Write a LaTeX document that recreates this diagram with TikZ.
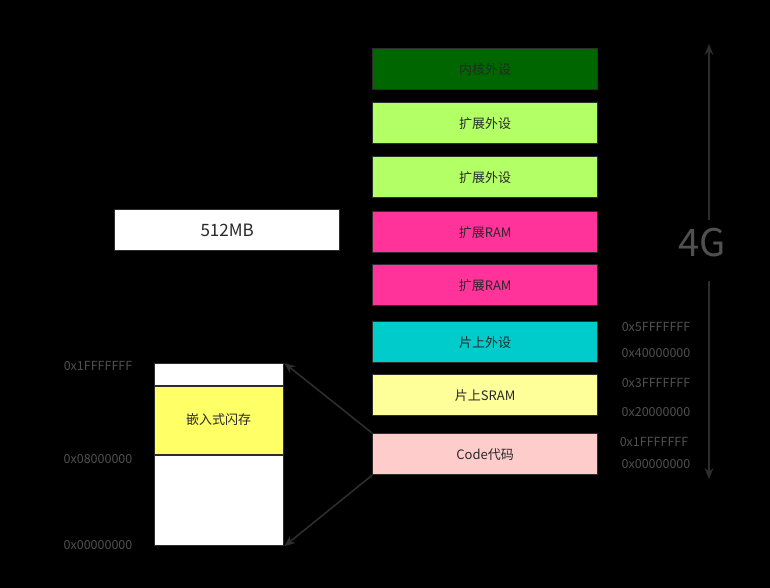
\documentclass[tikz,border=0pt]{standalone}
\usepackage{fontspec}
\setmainfont{Noto Sans CJK SC}
\usetikzlibrary{arrows.meta}
\definecolor{dkgreen}{RGB}{0,102,0}
\definecolor{ltgreen}{RGB}{179,255,102}
\definecolor{hotpink}{RGB}{255,51,153}
\definecolor{cyanbox}{RGB}{0,204,204}
\definecolor{ltyellow}{RGB}{255,255,153}
\definecolor{ltpink}{RGB}{255,204,204}
\definecolor{flash}{RGB}{255,255,102}
\definecolor{txt}{RGB}{40,40,40}
\definecolor{lbl}{RGB}{80,80,80}
\definecolor{edge}{RGB}{45,45,45}
\tikzset{
  memblock/.style={draw=edge, line width=1.3pt, minimum width=225pt, minimum height=41pt, inner sep=0pt, text=txt, font=\fontsize{13}{15}\selectfont, anchor=north west},
  addr/.style={text=lbl, font=\fontsize{12.5}{14}\selectfont, inner sep=0pt},
  link/.style={draw=edge, line width=1.6pt, -{Stealth[length=11pt,width=9pt]}},
}
\begin{document}
\begin{tikzpicture}[x=1pt,y=-1pt]
\fill[black] (0,0) rectangle (770,588);
\useasboundingbox (0,0) rectangle (770,588);
% right column
\node[memblock, fill=dkgreen] (b8) at (372,48) {内核外设};
\node[memblock, fill=ltgreen] (b7) at (372,102) {扩展外设};
\node[memblock, fill=ltgreen] (b6) at (372,156) {扩展外设};
\node[memblock, fill=hotpink] (b5) at (372,211) {扩展RAM};
\node[memblock, fill=hotpink] (b4) at (372,264) {扩展RAM};
\node[memblock, fill=cyanbox] (b3) at (372,321) {片上外设};
\node[memblock, fill=ltyellow] (b2) at (372,374) {片上SRAM};
\node[memblock, fill=ltpink] (b1) at (372,433) {Code代码};
% 512MB
\node[memblock, fill=white, font=\fontsize{17}{19}\selectfont] (mb) at (114,209) {512MB};
% flash region
\fill[white] (154,363) rectangle (283,545);
\fill[flash] (154,386) rectangle (283,455);
\draw[edge, line width=1.3pt] (154,386) -- (283,386) (154,455) -- (283,455);
\node[draw=edge, line width=1.3pt, minimum width=129pt, minimum height=182pt, inner sep=0pt, anchor=north west] (fl) at (154,363) {};
\node[text=txt, font=\fontsize{13}{15}\selectfont] (fltxt) at (218.5,420) {嵌入式闪存};
% left addresses
\node[addr] (la1) at (98,366) {0x1FFFFFFF};
\node[addr] (la2) at (98,459) {0x08000000};
\node[addr] (la3) at (98,545) {0x00000000};
% right addresses
\node[addr] (ra1) at (656,327) {0x5FFFFFFF};
\node[addr] (ra2) at (656,353) {0x40000000};
\node[addr] (ra3) at (656,383) {0x3FFFFFFF};
\node[addr] (ra4) at (656,412) {0x20000000};
\node[addr] (ra5) at (654,442) {0x1FFFFFFF};
\node[addr] (ra6) at (656,464) {0x00000000};
% 4G axis
\node[text=lbl, font=\fontsize{38}{42}\selectfont, inner sep=0pt] (g4) at (702,243) {4G};
\coordinate (topend) at (709,44);
\coordinate (botend) at (709,479);
\coordinate (gtop) at (709,220);
\coordinate (gbot) at (709,281);
\draw[link, line width=1.3pt] (gtop) -- (topend);
\draw[link, line width=1.3pt] (gbot) -- (botend);
% links
\draw[link] (b1.north west) -- (fl.north east);
\draw[link] (b1.south west) -- (fl.south east);
\end{tikzpicture}
\end{document}
